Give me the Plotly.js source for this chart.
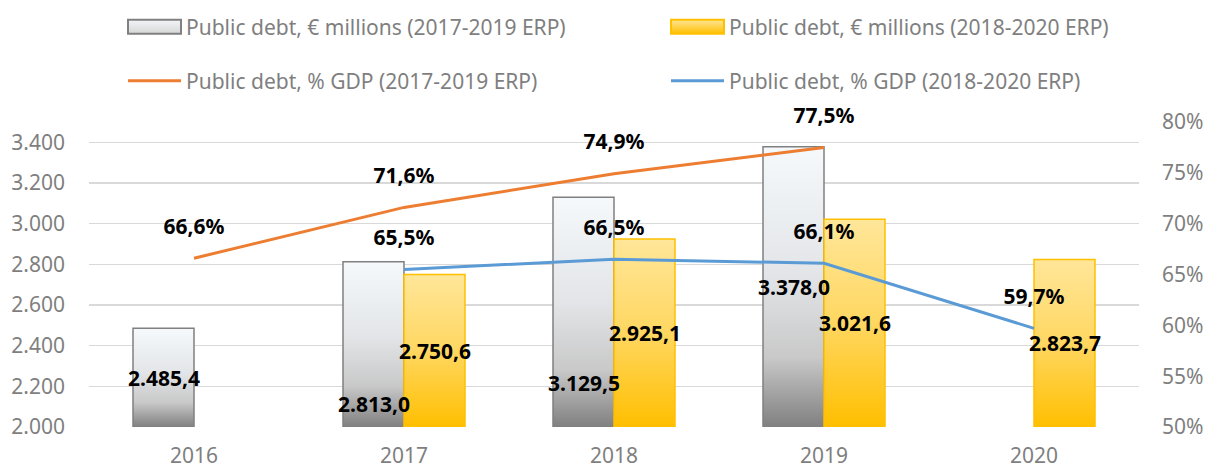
<!DOCTYPE html>
<html>
<head>
<meta charset="utf-8">
<script src="https://cdn.plot.ly/plotly-3.0.1.min.js"></script>
<style>
  html, body { margin: 0; padding: 0; background: #fff; }
  #chart { width: 1212px; height: 468px; }
</style>
</head>
<body>
<div id="chart"></div>
<script>
// ---------- data ----------
const years = ['2016', '2017', '2018', '2019', '2020'];
const debtMlnERP1719 = [2485.4, 2813.0, 3129.5, 3378.0, null];
const debtMlnERP1820 = [null, 2750.6, 2925.1, 3021.6, 2823.7];
const debtGdpERP1719 = [66.6, 71.6, 74.9, 77.5, null];
const debtGdpERP1820 = [null, 65.5, 66.5, 66.1, 59.7];
const leftTicks = [2000, 2200, 2400, 2600, 2800, 3000, 3200, 3400];

const seriesNames = [
  'Public debt, € millions (2017-2019 ERP)',
  'Public debt, € millions (2018-2020 ERP)',
  'Public debt, % GDP (2017-2019 ERP)',
  'Public debt, % GDP (2018-2020 ERP)'
];

// ---------- styling ----------
const FONT = 'Noto Sans, Open Sans, sans-serif';
const GREY_TXT = '#7f7f7f';
const LBL = {family: FONT, size: 21, color: '#000000', weight: 'bold'};
const Y_MIN = 2000, Y_MAX = 3500;
// labels that were moved manually in the original (axis value of label centre)
const movedGreyLabels = {1: 2113, 2: 2217};
const HALF_BAR_PX = 30.5;

const fmt = v => v.toLocaleString('de-DE', {minimumFractionDigits: 1, maximumFractionDigits: 1});

const traces = [
  {
    type: 'bar', name: seriesNames[0], x: years, y: debtMlnERP1719,
    marker: {color: '#dcdcdc', line: {color: '#808080', width: 1.5}},
    legend: 'legend', hoverinfo: 'skip'
  },
  {
    type: 'bar', name: seriesNames[1], x: years, y: debtMlnERP1820,
    marker: {color: '#ffd34d', line: {color: '#ffc000', width: 1.5}},
    legend: 'legend2', hoverinfo: 'skip'
  },
  {
    type: 'scatter', mode: 'lines+markers+text', name: seriesNames[2], x: years, y: debtGdpERP1719,
    yaxis: 'y2', line: {color: '#ed7d31', width: 3},
    marker: {size: 29, opacity: 0, color: '#ed7d31'},
    texttemplate: '%{y:.1f}%', textposition: 'top center', textfont: LBL,
    legend: 'legend3', hoverinfo: 'skip', cliponaxis: false
  },
  {
    type: 'scatter', mode: 'lines+markers+text', name: seriesNames[3], x: years, y: debtGdpERP1820,
    yaxis: 'y2', line: {color: '#5b9bd5', width: 3},
    marker: {size: 29, opacity: 0, color: '#5b9bd5'},
    texttemplate: '%{y:.1f}%', textposition: 'top center', textfont: LBL,
    legend: 'legend4', hoverinfo: 'skip', cliponaxis: false
  }
];

// value labels of the bars (category axis: x is the category's serial number)
const annotations = [];
[[debtMlnERP1719, -HALF_BAR_PX, true], [debtMlnERP1820, HALF_BAR_PX, false]].forEach(([vals, shift, grey]) => {
  vals.forEach((v, i) => {
    if (v == null) return;
    const yPos = (grey && movedGreyLabels[i] != null) ? movedGreyLabels[i] : (Y_MIN + v) / 2;
    annotations.push({
      x: i, y: yPos, xref: 'x', yref: 'y', text: fmt(v), showarrow: false,
      xshift: shift, font: LBL, xanchor: 'center', yanchor: 'middle'
    });
  });
});

const legendCommon = {
  orientation: 'h', xref: 'container', yref: 'container',
  xanchor: 'left', yanchor: 'middle', itemwidth: 53,
  font: {family: FONT, size: 21, color: GREY_TXT},
  bgcolor: 'rgba(0,0,0,0)', traceorder: 'normal', borderwidth: 0
};
const legendAt = (px, py) => Object.assign({}, legendCommon, {x: px / 1212, y: 1 - py / 468});

const layout = {
  width: 1212, height: 468,
  margin: {l: 89, r: 73, t: 122, b: 41},
  paper_bgcolor: '#ffffff', plot_bgcolor: '#ffffff',
  font: {family: FONT, size: 21, color: GREY_TXT},
  separators: ',.',
  barmode: 'group', bargap: 0.419, bargroupgap: 0,
  showlegend: true,
  legend: legendAt(123, 27),
  legend2: legendAt(666, 27),
  legend3: legendAt(123, 81),
  legend4: legendAt(666, 81),
  xaxis: {
    type: 'category', showgrid: false, zeroline: false, showline: false,
    ticks: '', ticklabelstandoff: 14,
    tickfont: {family: FONT, size: 21, color: GREY_TXT}
  },
  yaxis: {
    range: [Y_MIN, Y_MAX], tickvals: leftTicks, tickformat: ',d',
    showgrid: true, gridcolor: '#d9d9d9', gridwidth: 1.5,
    zeroline: false, showline: false, ticks: '', ticklabelstandoff: 23,
    tickfont: {family: FONT, size: 21, color: GREY_TXT}
  },
  yaxis2: {
    overlaying: 'y', side: 'right', range: [50, 80], dtick: 5, tick0: 50,
    ticksuffix: '%', showgrid: false, zeroline: false, showline: false,
    ticks: '', ticklabelstandoff: 22,
    tickfont: {family: FONT, size: 21, color: GREY_TXT}
  },
  annotations: annotations
};

// gradient stops (fill styling for the bars and their legend swatches)
const GRADS = [
  [[0, '#f5f9fc'], [0.45, '#e3e5e8'], [0.75, '#c9c9c9'], [1, '#808080']],
  [[0, '#ffe699'], [0.5, '#ffd761'], [1, '#ffbf00']]
];
const LEGEND_GRADS = [
  [[0, '#f3f5f7'], [1, '#d6d6d6']],
  [[0, '#ffe699'], [1, '#ffc000']]
];

function addGradient(defs, id, stops, attrs) {
  const NS = 'http://www.w3.org/2000/svg';
  const lg = document.createElementNS(NS, 'linearGradient');
  lg.setAttribute('id', id);
  Object.keys(attrs).forEach(k => lg.setAttribute(k, attrs[k]));
  stops.forEach(s => {
    const st = document.createElementNS(NS, 'stop');
    st.setAttribute('offset', s[0]);
    st.setAttribute('stop-color', s[1]);
    lg.appendChild(st);
  });
  defs.appendChild(lg);
}

function traceOf(el) {
  const d = el.__data__;
  if (!d) return null;
  if (d.trace) return d.trace;
  if (Array.isArray(d)) {
    if (d[0] && d[0].trace) return d[0].trace;
    if (d[0] && d[0][0] && d[0][0].trace) return d[0][0].trace;
  }
  return null;
}

function styleChart(gd) {
  const svg = gd.querySelector('.main-svg');
  let defs = svg.querySelector('defs');
  if (!defs) { defs = document.createElementNS('http://www.w3.org/2000/svg', 'defs'); svg.insertBefore(defs, svg.firstChild); }
  const plotH = gd._fullLayout.yaxis._length;
  gd.querySelectorAll('.barlayer .trace').forEach((tr, ti) => {
    const t = traceOf(tr);
    const idx = t ? t.index : ti;
    tr.querySelectorAll('.point path').forEach((p, pi) => {
      const bb = p.getBBox();
      if (!bb.height) return;
      const top = bb.y, bottom = Math.min(bb.y + bb.height, plotH);
      const id = 'barGrad' + idx + '_' + pi;
      addGradient(defs, id, GRADS[idx], {gradientUnits: 'userSpaceOnUse', x1: 0, x2: 0, y1: top, y2: bottom});
      p.style.fill = 'url(#' + id + ')';
    });
  });
  addGradient(defs, 'legendSwatchGrad0', LEGEND_GRADS[0], {x1: 0, x2: 0, y1: 0, y2: 1});
  addGradient(defs, 'legendSwatchGrad1', LEGEND_GRADS[1], {x1: 0, x2: 0, y1: 0, y2: 1});
  gd.querySelectorAll('.legend .traces, .legend2 .traces, .legend3 .traces, .legend4 .traces').forEach((el, k) => {
    const t = traceOf(el);
    const idx = t ? t.index : k;
    const isBar = t ? t.type === 'bar' : idx < 2;
    if (isBar) {
      el.querySelectorAll('.legendpoints path').forEach(p => {
        p.setAttribute('d', 'M5,-7h53v14h-53Z');
        p.setAttribute('transform', '');
        p.style.fill = 'url(#legendSwatchGrad' + idx + ')';
        p.style.strokeWidth = '2px';
      });
    } else {
      el.querySelectorAll('path.js-line').forEach(p => {
        p.setAttribute('d', 'M5,0h53');
        p.setAttribute('transform', '');
      });
      el.querySelectorAll('.legendpoints path').forEach(p => p.remove());
    }
  });
}

Plotly.newPlot('chart', traces, layout, {staticPlot: true, displayModeBar: false}).then(styleChart);
</script>
</body>
</html>
